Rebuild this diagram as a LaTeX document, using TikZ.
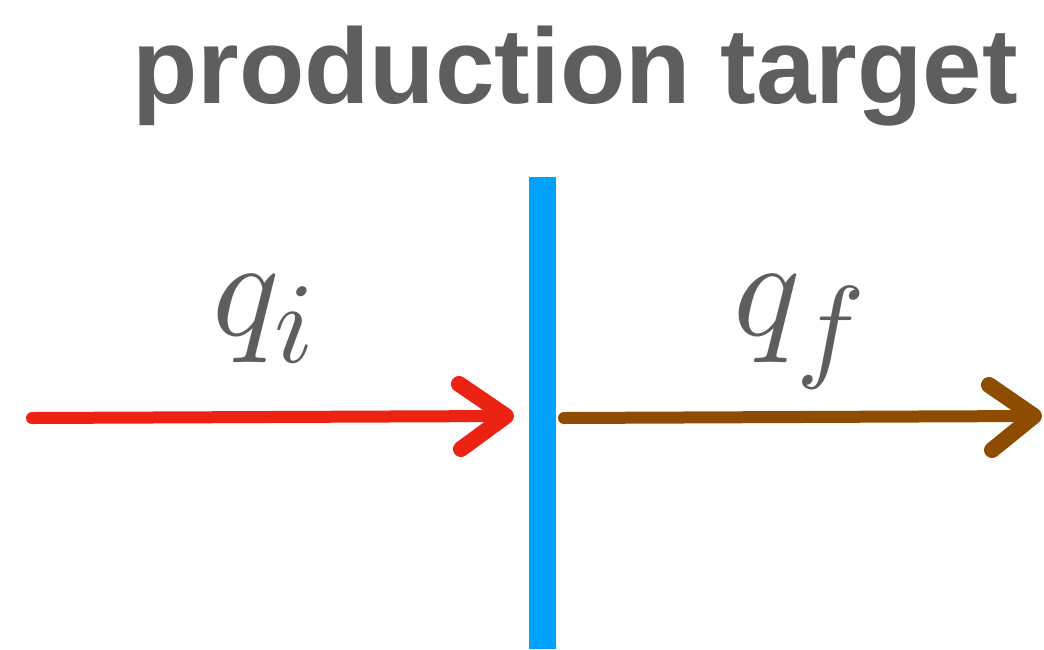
\documentclass[tikz,border=0pt]{standalone}
\usepackage{fontspec}
\setmainfont{Liberation Sans}
\usetikzlibrary{calc}
\definecolor{txtgray}{HTML}{5E5E5E}
\definecolor{crayonred}{HTML}{EC2313}
\definecolor{crayonbrown}{HTML}{8E4C00}
\definecolor{targetblue}{HTML}{00A2FF}
\tikzset{
  shaft/.style={line width=12pt, line cap=round},
  headline/.style={line width=16pt, line cap=round, line join=round},
  lbl/.style={text=txtgray, inner sep=0pt},
  mathlbl/.style={lbl, scale=14, anchor=base},
}
\newcommand{\bigsub}[1]{\scalebox{0.82}{$\textstyle #1$}}
\begin{document}
\begin{tikzpicture}[x=1pt,y=-1pt]
\useasboundingbox (0,0) rectangle (1044,649);
% title
\node[lbl, font=\fontsize{107}{110}\selectfont\bfseries, anchor=base] (title) at (575,103) {production target};
% target
\fill[targetblue] (529,177) rectangle (556,649);
\coordinate (target) at (542,418);
% incoming beam
\coordinate (ri) at (32,418);
\coordinate (rt) at (506,416);
\draw[shaft, crayonred] (ri) -- (rt);
\draw[headline, crayonred] (459,384) -- (rt) -- (461,449);
\node[mathlbl] (qi) at (267,335) {$q_{\bigsub{i}}$};
% outgoing beam
\coordinate (bi) at (564,418);
\coordinate (bt) at (1034,416);
\draw[shaft, crayonbrown] (bi) -- (bt);
\draw[headline, crayonbrown] (989,385) -- (bt) -- (992,450);
\node[mathlbl] (qf) at (803,335) {$q_{\bigsub{f}}$};
\end{tikzpicture}
\end{document}
